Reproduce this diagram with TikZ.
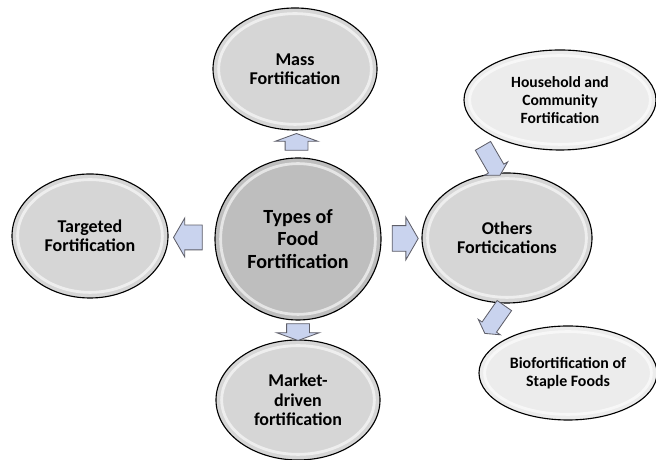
\documentclass[tikz,border=0pt]{standalone}
\usepackage{tikz}
\usepackage{fontspec}
\setmainfont{Carlito}
\usetikzlibrary{shapes.geometric}
\usetikzlibrary{shapes.arrows}
\usetikzlibrary{calc}
\definecolor{bubble}{RGB}{214,214,214}
\definecolor{centergray}{RGB}{190,190,190}
\definecolor{paler}{RGB}{236,236,236}
\definecolor{arrfill}{RGB}{201,211,238}
\definecolor{arrline}{RGB}{95,95,105}

\begin{document}
\begin{tikzpicture}[thick, main/.style = {draw, ellipse, fill=bubble, line width=0.8pt, align=center, inner sep=0pt, font=\bfseries\fontsize{12.8}{13.8}\selectfont, path picture={\draw[white, line width=2pt, opacity=0.6] let \p1 = ($(path picture bounding box.north east)-(path picture bounding box.center)$) in (path picture bounding box.center) ellipse [x radius=\x1-4pt, y radius=\y1-4pt];}}, arr/.style = {draw=arrline, fill=arrfill, line width=0.6pt, single arrow, inner xsep=0pt, single arrow tip angle=120}] 
  \useasboundingbox (0,0) rectangle (16.4,11.5);
  \node[main, fill=centergray, minimum width=4.15cm, minimum height=4.05cm, font=\bfseries\fontsize{14.3}{16}\selectfont] (1) at (7.45,5.525) {Types of\\Food\\Fortification}; 
  \node[main, minimum width=4.1cm, minimum height=3.05cm] (2) at (7.375,9.775) {Mass\\Fortification}; 
  \node[main, minimum width=3.9cm, minimum height=3.1cm] (3) at (2.25,5.6) {Targeted\\Fortification}; 
  \node[main, minimum width=4.1cm, minimum height=3cm] (4) at (7.45,1.5) {Market-\\driven\\fortification}; 
  \node[main, minimum width=4.25cm, minimum height=3.25cm] (5) at (12.675,5.55) {Others\\Forticications}; 
  \node[main, fill=paler, minimum width=4.8cm, minimum height=2.5cm, font=\bfseries\fontsize{11.1}{13}\selectfont] (6) at (14,9) {Household and\\Community\\Fortification}; 
  \node[main, fill=paler, minimum width=4.45cm, minimum height=2.35cm, font=\bfseries\fontsize{11.3}{13.2}\selectfont] (7) at (14.2,2.175) {Biofortification of\\Staple Foods}; 
  \node[arr, rotate=90, minimum height=0.42cm, inner ysep=0.275cm, single arrow head extend=0.25cm, single arrow tip angle=140] (8) at ($(1.north)!0.5!(2.south)$) {}; 
  \node[arr, rotate=-90, minimum height=0.42cm, inner ysep=0.275cm, single arrow head extend=0.25cm, single arrow tip angle=140] (9) at ($(1.south)!0.5!(4.north)$) {}; 
  \node[arr, rotate=180, minimum height=0.72cm, inner ysep=0.3cm, single arrow head extend=0.175cm] (10) at ($(1.west)!0.5!(3.east)$) {}; 
  \node[arr, minimum height=0.65cm, inner ysep=0.31cm, single arrow head extend=0.215cm] (11) at ($(1.east)!0.5!(5.west)$) {}; 
  \node[arr, rotate=-60, minimum height=0.85cm, inner ysep=0.21cm, single arrow head extend=0.115cm] (12) at ($(5.115)!0.5!(6.215)$) {}; 
  \node[arr, rotate=-125, minimum height=0.85cm, inner ysep=0.21cm, single arrow head extend=0.115cm] (13) at ($(5.245)!0.5!(7.145)$) {}; 
\end{tikzpicture}
\end{document}
